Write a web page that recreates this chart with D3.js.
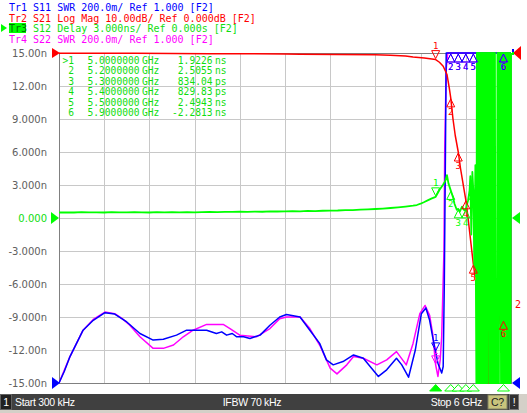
<!DOCTYPE html>
<html><head><meta charset="utf-8">
<script src="https://cdn.jsdelivr.net/npm/d3@7"></script>
<style>
html,body{margin:0;padding:0;background:#fff;}
svg{display:block;}
text{white-space:pre;}
</style></head><body>
<svg id="c" width="527" height="413"></svg>
<script>
// ---------------- data ----------------
const traceHeaders = [
  "Tr1 S11 SWR 200.0m/ Ref 1.000 [F2]",
  "Tr2 S21 Log Mag 10.00dB/ Ref 0.000dB [F2]",
  "Tr3 S12 Delay 3.000ns/ Ref 0.000s [F2]",
  "Tr4 S22 SWR 200.0m/ Ref 1.000 [F2]"
];
const startGHz = 0.0003, stopGHz = 6;
const delayTicks = [15,12,9,6,3,0,-3,-6,-9,-12,-15];
const tickLabels = ["15.00n","12.00n","9.000n","6.000n","3.000n","0.000","-3.000n","-6.000n","-9.000n","-12.00n","-15.00n"];

// S11 (SWR)
const s11Freq = [0.0003,0.07,0.146,0.32,0.455,0.61,0.74,0.90,1.075,1.25,1.385,1.56,1.695,1.83,1.96,2.09,2.16,2.225,2.30,2.36,2.45,2.535,2.60,2.67,2.80,2.93,3.02,3.2,3.33,3.46,3.55,3.64,3.77,3.91,4.04,4.13,4.24,4.35,4.48,4.55,4.64,4.73,4.81,4.87,4.92,4.96,5.03,5.08,5.10,5.115,5.13,5.14,5.2,5.4,5.6,5.8,6.0];
const s11Swr  = [1.0,1.07,1.16,1.32,1.38,1.426,1.418,1.37,1.30,1.26,1.265,1.29,1.32,1.32,1.32,1.30,1.31,1.29,1.30,1.28,1.28,1.27,1.28,1.29,1.35,1.40,1.415,1.40,1.32,1.24,1.14,1.11,1.13,1.17,1.15,1.10,1.04,1.08,1.15,1.11,1.035,1.20,1.42,1.455,1.38,1.28,1.12,1.06,1.10,1.61,2.4,3.6,6.2,7.5,8.1,7.2,6.5];
// S22 (SWR)
const s22Freq = [0.0003,0.146,0.32,0.455,0.61,0.74,0.84,0.94,1.075,1.25,1.385,1.52,1.65,1.78,1.96,2.18,2.27,2.40,2.62,2.80,2.93,3.02,3.2,3.33,3.46,3.60,3.69,3.82,3.91,4.04,4.22,4.35,4.48,4.61,4.70,4.79,4.86,4.92,4.96,5.0,5.03,5.06,5.08,5.11,5.12,5.14,5.16,5.4,5.7,6.0];
const s22Swr  = [1.0,1.16,1.32,1.385,1.43,1.42,1.39,1.35,1.28,1.21,1.21,1.23,1.28,1.32,1.355,1.355,1.33,1.29,1.28,1.33,1.39,1.40,1.40,1.33,1.23,1.09,1.055,1.11,1.16,1.15,1.11,1.14,1.19,1.11,1.24,1.42,1.47,1.41,1.30,1.11,1.04,1.14,1.28,1.80,2.40,2.90,4.5,6.8,7.7,6.9];
// S21 (dB)
const s21Freq = [0.0003,1.0,2.0,3.0,3.2,4.2,4.4,4.6,4.7,4.85,5.0,5.05,5.1,5.15,5.18,5.2,5.23,5.26,5.3,5.33,5.37,5.4,5.43,5.47,5.5,5.53,5.6,5.65,5.69,5.70,5.71,5.80,5.84,5.86,5.87,5.88,5.89,5.90,5.92,6.0];
const s21Db   = [-0.05,-0.1,-0.2,-0.3,-0.4,-0.5,-0.7,-0.9,-1.2,-1.5,-2.0,-2.8,-4.0,-6.5,-10.5,-13.6,-20,-25,-30,-35,-40.5,-44.5,-50,-58,-64,-69,-75,-78,-84,-100,-84,-80,-82,-76,-85,-78,-83,-81,-80,-80];
// S12 (Delay, ns): smooth part, then the noisy band above ~5.45 GHz
const s12Freq = [0.0003,0.1,0.2,0.3,0.4,0.5,0.6,0.7,0.8,0.9,1.0,1.1,1.2,1.3,1.4,1.5,1.6,1.7,1.8,1.9,2.0,2.1,2.2,2.3,2.4,2.5,2.6,2.7,2.8,2.9,3.0,3.1,3.2,3.3,3.4,3.5,3.6,3.7,3.8,3.9,4.0,4.1,4.2,4.3,4.4,4.5,4.6,4.7,4.75,4.8,4.85,4.9,4.95,5.0,5.05,5.1,5.13,5.15,5.17,5.2,5.23,5.25,5.28,5.3,5.32,5.35,5.38,5.4,5.43,5.45,
  5.460,5.473,5.487,5.500,5.513,5.527,
  5.540,5.547,5.553,5.560,5.567,5.573,5.580,5.587,5.593,5.600,
  5.607,5.613,5.620,5.627,5.633,5.640,5.647,5.653,5.660,5.667,
  5.673,5.680,5.687,5.693,5.700,5.707,5.713,5.720,5.727,5.733,
  5.740,5.747,5.753,5.760,5.767,5.773,5.780,5.787,5.793,5.800,
  5.807,5.813,5.820,5.827,5.833,5.840,5.847,5.853,5.860,5.867,
  5.873,5.880,5.887,5.893,5.900,5.907,5.913,5.920,5.927,5.933,
  5.940,5.947,5.953,5.960,5.967,5.973,5.980,5.987,5.993,6.000];
const s12Delay = [0.50,0.52,0.50,0.53,0.51,0.52,0.50,0.53,0.52,0.51,0.53,0.52,0.50,0.53,0.52,0.54,0.52,0.53,0.51,0.54,0.55,0.54,0.56,0.55,0.57,0.56,0.58,0.57,0.60,0.59,0.61,0.62,0.61,0.64,0.63,0.66,0.67,0.68,0.71,0.72,0.76,0.79,0.82,0.86,0.91,0.97,1.04,1.12,1.18,1.30,1.45,1.62,1.78,1.92,2.55,3.05,3.4,3.9,3.15,2.51,1.9,1.3,0.75,0.83,0.57,1.03,0.7,0.83,1.6,2.5,
  3.8,-1.5,4.2,2.49,-4.5,4.8,
  -41.2,38.5,-37.9,42.3,-39.6,36.8,-44.1,40.7,-38.2,43.5,
  -36.4,39.9,-42.8,37.3,-40.5,38.9,-43.7,41.1,-39.2,36.2,
  -38.8,42.9,-37.1,39.4,41.9,38.1,-40.3,43.8,-36.7,39.5,
  -42.2,41.4,-38.6,40.1,-43.3,37.6,-39.8,42.5,-41.7,-38.4,
  -44.9,-37.5,40.6,-39.1,43.2,-36.9,41.8,38.7,42.4,-40.9,
  37.8,-42.6,39.3,-37.4,-2.28,40.2,-41.5,38.4,-43.1,36.5,
  -39.7,42.1,-38.3,40.8,-44.2,37.9,-40.4,41.3,-37.7,39.6];

// markers
const markerIds = ["1","2","3","4","5","6"];
const markerFreq = [5.0,5.2,5.3,5.4,5.5,5.9];
const markerFreqText = ["5.0000000","5.2000000","5.3000000","5.4000000","5.5000000","5.9000000"];
const markerValText = ["1.9226","2.5055","834.04","829.83","2.4943","-2.2813"];
const markerUnit = ["ns","ns","ps","ps","ns","ns"];
const markerDelay = [1.9226,2.5055,0.83404,0.82983,2.4943,-2.2813];
const activeMarker = 0;

const statusTexts = {start:"Start 300 kHz", ifbw:"IFBW 70 kHz", stop:"Stop 6 GHz"};

// ---------------- drawing ----------------
const C = {blue:"#0000ff", red:"#ff0000", green:"#00ff00", greenText:"#10dd10", mag:"#ff00ff", grid:"#c8c8c8", frame:"#808080", tick:"#606060"};
const plot = {l:59, r:511, t:53, b:383};
const svg = d3.select("#c");
const mono = "'DejaVu Sans Mono', monospace";
const sans = "'DejaVu Sans', sans-serif";
const bar = "'Liberation Sans', Arial, sans-serif";

const x = d3.scaleLinear().domain([startGHz, stopGHz]).range([plot.l, plot.r]);
const ySwr = d3.scaleLinear().domain([1, 3]).range([plot.b, plot.t]).clamp(true);
const yDb = d3.scaleLinear().domain([-100, 0]).range([plot.b, plot.t]).clamp(true);
const yDelay = d3.scaleLinear().domain([-15, 15]).range([plot.b, plot.t]).clamp(true);

svg.append("rect").attr("width",527).attr("height",413).attr("fill","#fff");

// grid
const xDiv = d3.range(11).map(i => startGHz + i*(stopGHz-startGHz)/10);
const gx = svg.append("g").attr("transform",`translate(0,${plot.b})`)
  .call(d3.axisBottom(x).tickValues(xDiv).tickSize(-(plot.b-plot.t)).tickFormat(""));
gx.select(".domain").remove();
gx.selectAll("line").attr("stroke",C.grid).attr("shape-rendering","crispEdges");
const gy = svg.append("g").attr("transform",`translate(${plot.l},0)`)
  .call(d3.axisLeft(yDelay).tickValues(delayTicks).tickSize(-(plot.r-plot.l)).tickFormat(""));
gy.select(".domain").remove();
gy.selectAll("line").attr("stroke",C.grid).attr("shape-rendering","crispEdges");

// frame
svg.append("rect").attr("x",plot.l).attr("y",plot.t).attr("width",plot.r-plot.l).attr("height",plot.b-plot.t)
  .attr("fill","none").attr("stroke",C.frame).attr("shape-rendering","crispEdges");

// tick labels
const ax = svg.append("g").attr("transform",`translate(${plot.l},0)`)
  .call(d3.axisLeft(yDelay).tickValues(delayTicks).tickFormat((d,i)=>tickLabels[i]).tickSize(0).tickPadding(12));
ax.select(".domain").remove();
ax.selectAll("text").attr("font-family",sans).attr("font-size",10)
  .attr("fill",d => d===0 ? C.greenText : C.tick);

// clip
svg.append("clipPath").attr("id","pc").append("rect")
  .attr("x",plot.l).attr("y",plot.t-1).attr("width",plot.r-plot.l+1).attr("height",plot.b-plot.t+2);

function trace(fr, vals, y, color, w){
  const pts = fr.map((f,i)=>[f, vals[i]]);
  svg.append("path").datum(pts).attr("clip-path","url(#pc)")
    .attr("fill","none").attr("stroke",color).attr("stroke-width",w||1.5)
    .attr("stroke-linejoin","round")
    .attr("d", d3.line().x(d=>x(d[0])).y(d=>y(d[1])));
}
trace(s22Freq, s22Swr, ySwr, C.mag);
trace(s11Freq, s11Swr, ySwr, C.blue);
trace(s21Freq, s21Db, yDb, C.red);
trace(s12Freq, s12Delay, yDelay, C.green, 1.8);

// value of a trace at a frequency (for marker placement)
function valueAt(fr, vals, f){
  const i = Math.max(1, d3.bisectLeft(fr, f));
  const f0=fr[i-1], f1=fr[i];
  const t = f1===f0 ? 0 : (f-f0)/(f1-f0);
  return vals[i-1] + t*(vals[i]-vals[i-1]);
}

function drawMarkers(yvals, yscale, color){
  const g = svg.append("g");
  markerFreq.forEach((f,i)=>{
    const px = x(f), py = yscale(yvals[i]);
    if (i === activeMarker){
      g.append("path").attr("d",`M${px-4},${py-9}L${px+4},${py-9}L${px},${py-1}Z`)
        .attr("fill","none").attr("stroke",color).attr("stroke-width",1);
      g.append("text").attr("x",px).attr("y",py-11).attr("text-anchor","middle")
        .attr("font-family",mono).attr("font-size",9).attr("fill",color).text(markerIds[i]);
    } else {
      g.append("path").attr("d",`M${px},${py+1}L${px-4},${py+9}L${px+4},${py+9}Z`)
        .attr("fill","none").attr("stroke",color).attr("stroke-width",1);
      g.append("text").attr("x",px).attr("y",py+17).attr("text-anchor","middle")
        .attr("font-family",mono).attr("font-size",9).attr("fill",color).text(markerIds[i]);
    }
  });
}
drawMarkers(markerFreq.map(f=>valueAt(s22Freq,s22Swr,f)), ySwr, C.mag);
drawMarkers(markerFreq.map(f=>valueAt(s11Freq,s11Swr,f)), ySwr, C.blue);
drawMarkers(markerFreq.map(f=>valueAt(s21Freq,s21Db,f)), yDb, C.red);
drawMarkers(markerDelay, yDelay, C.green);

// stimulus marker triangles under the grid
markerFreq.forEach((f,i)=>{
  const px = x(f);
  svg.append("path").attr("d",`M${px},384.5L${px-6},391L${px+6},391Z`)
    .attr("fill", i===activeMarker ? C.green : "#fff").attr("stroke",C.green).attr("stroke-width",1);
});

// reference pointers
function tri(d, color){ svg.append("path").attr("d",d).attr("fill",color); }
tri(`M${plot.l+1},${yDb(0)}L${plot.l-7},${yDb(0)-5}L${plot.l-7},${yDb(0)+5}Z`, C.red);
tri(`M${plot.l},${yDelay(0)}L${plot.l-8},${yDelay(0)-6}L${plot.l-8},${yDelay(0)+6}Z`, C.green);
tri(`M${plot.l+1},${ySwr(1)}L${plot.l-7},${ySwr(1)-6}L${plot.l-7},${ySwr(1)+6}Z`, C.blue);
tri(`M${plot.r+2},${yDb(0)}L${plot.r+10},${yDb(0)-7}L${plot.r+10},${yDb(0)+7}Z`, C.red);
svg.append("rect").attr("x",plot.r+1).attr("y",yDb(0)-4).attr("width",2).attr("height",3).attr("fill",C.blue);
svg.append("rect").attr("x",plot.r+1).attr("y",yDb(0)-1).attr("width",2).attr("height",3).attr("fill",C.green);
tri(`M${plot.r+1},${yDelay(0)}L${plot.r+9},${yDelay(0)-6}L${plot.r+9},${yDelay(0)+6}Z`, C.green);
tri(`M${plot.r+1},${ySwr(1)}L${plot.r+9},${ySwr(1)-6}L${plot.r+9},${ySwr(1)+6}Z`, C.blue);
svg.append("text").attr("x",plot.r+4).attr("y",308).attr("font-family",mono).attr("font-size",10)
  .attr("fill",C.red).text("2");

// header
const hdrColors = [C.blue, C.red, C.greenText, C.mag];
traceHeaders.forEach((h,i)=>{
  const by = 11 + i*10.5;
  if (i===2){
    svg.append("rect").attr("x",9).attr("y",by-9).attr("width",17).attr("height",10).attr("fill",C.green);
    svg.append("path").attr("d",`M1,${by-8}L7,${by-4}L1,${by}Z`).attr("fill",C.green);
    svg.append("text").attr("x",9).attr("y",by).attr("font-family",mono).attr("font-size",10)
      .attr("fill","#007000").text(h.slice(0,3));
    svg.append("text").attr("x",9+4*6.02).attr("y",by).attr("font-family",mono).attr("font-size",10)
      .attr("fill",hdrColors[i]).text(h.slice(4));
  } else {
    svg.append("text").attr("x",9).attr("y",by).attr("font-family",mono).attr("font-size",10)
      .attr("fill",hdrColors[i]).text(h);
  }
});

// marker table
markerFreq.forEach((f,i)=>{
  const by = 63.5 + i*10.5;
  const t = (xx, s, anchor) => svg.append("text").attr("x",xx).attr("y",by).attr("text-anchor",anchor||"start")
    .attr("font-family",mono).attr("font-size",9.6).attr("fill",C.greenText).text(s);
  t(74, (i===activeMarker ? ">" : "") + markerIds[i], "end");
  t(87.5, markerFreqText[i]);
  t(142, "GHz");
  t(212.5, markerValText[i], "end");
  t(215, markerUnit[i]);
});

// status bar
svg.append("rect").attr("x",0).attr("y",394).attr("width",527).attr("height",19).attr("fill","#d4d0c8");
svg.append("rect").attr("x",0).attr("y",394).attr("width",519).attr("height",16).attr("fill","#404040");
svg.append("rect").attr("x",0.5).attr("y",394.5).attr("width",11).attr("height",15).attr("fill","#202020").attr("stroke","#606060");
const bt = (xx, s, anchor, col) => svg.append("text").attr("x",xx).attr("y",406).attr("text-anchor",anchor)
  .attr("font-family",bar).attr("font-size",10.5).attr("letter-spacing",-0.3).attr("fill",col||"#fff").text(s);
bt(6, "1", "middle");
bt(15, statusTexts.start, "start");
bt(252, statusTexts.ifbw, "middle");
bt(482, statusTexts.stop, "end");
svg.append("rect").attr("x",488).attr("y",395).attr("width",19).attr("height",14).attr("fill","#c8c47c").attr("stroke","#808060");
bt(497.5, "C?", "middle", "#202020");
svg.append("rect").attr("x",509.5).attr("y",394.5).attr("width",9).attr("height",15).attr("fill","#303030").attr("stroke","#707070");
bt(514, "!", "middle");
</script>
</body></html>
